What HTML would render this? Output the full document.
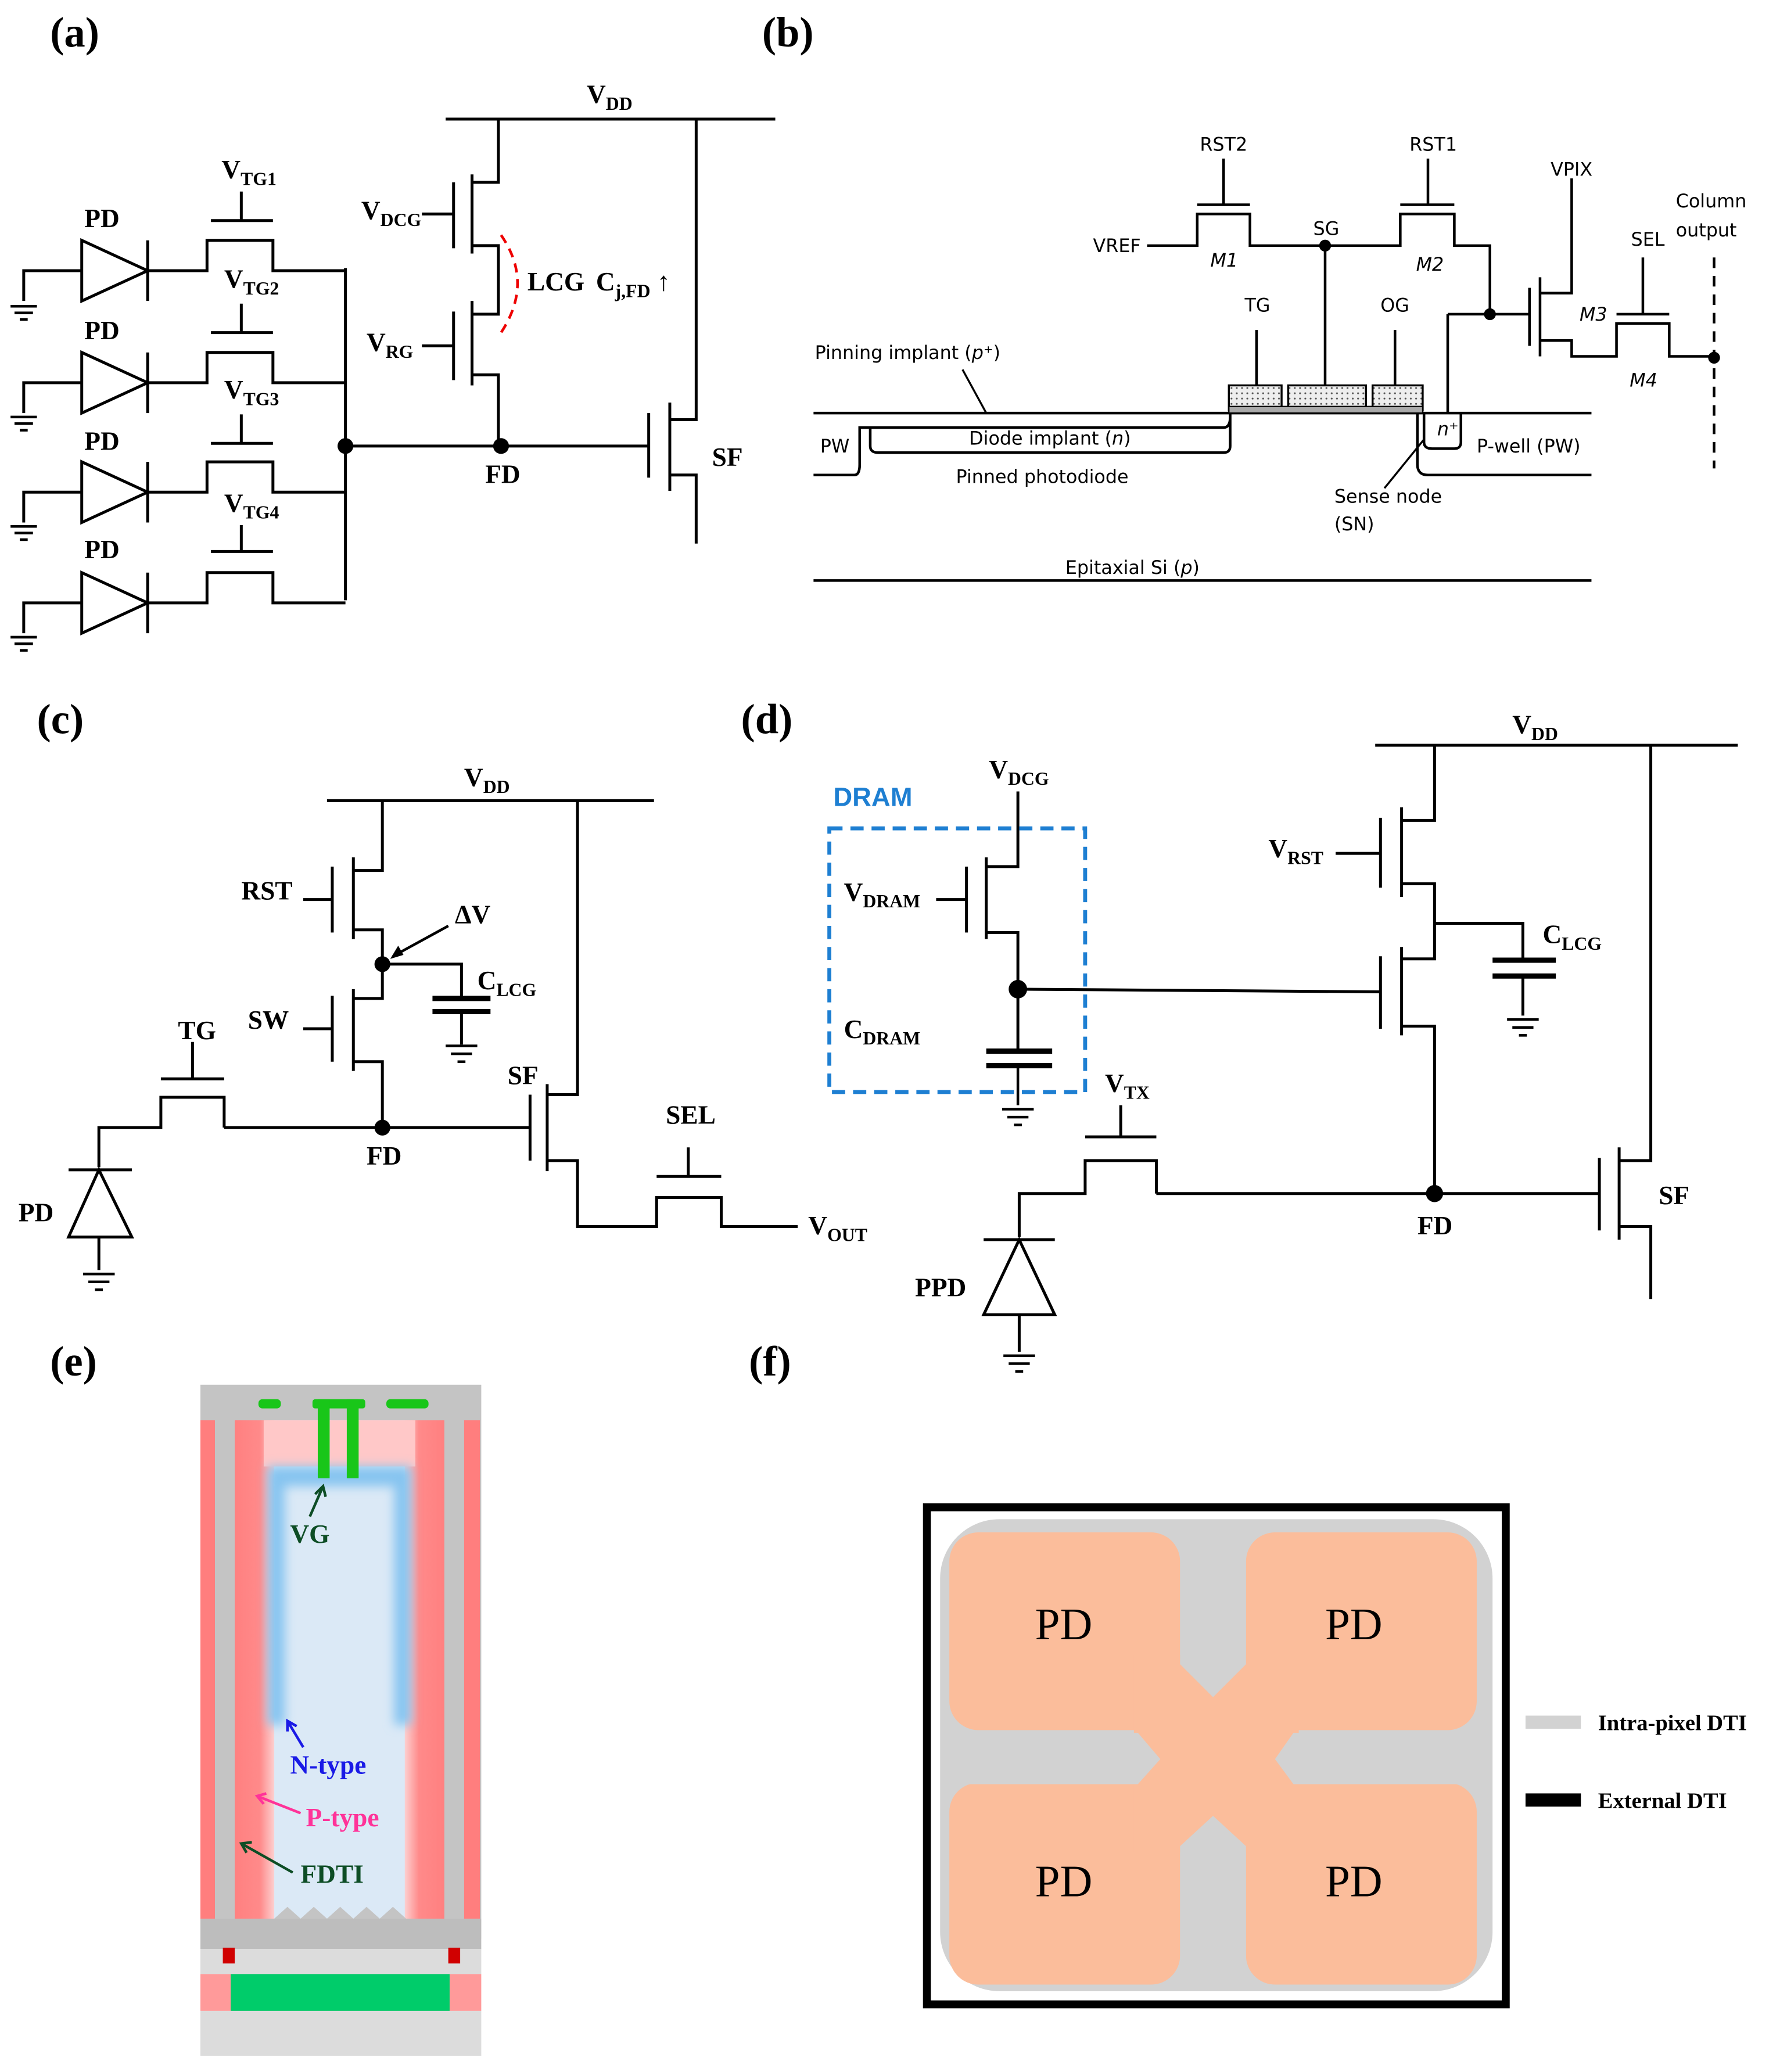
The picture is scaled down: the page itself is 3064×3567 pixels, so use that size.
<!DOCTYPE html>
<html><head><meta charset="utf-8"><style>html,body{margin:0;padding:0;background:#fff}svg{display:block}</style></head><body>
<svg xmlns="http://www.w3.org/2000/svg" width="3064" height="3567" viewBox="0 0 1350 1571">
<defs>
<pattern id="dots" width="4" height="4" patternUnits="userSpaceOnUse"><rect width="4" height="4" fill="#eee"/><circle cx="2" cy="2" r="0.7" fill="#555"/></pattern>
<linearGradient id="rl" x1="0" x2="1"><stop offset="0" stop-color="#ff8080"/><stop offset="0.6" stop-color="#ff8a8a"/><stop offset="1" stop-color="#fcdcdc"/></linearGradient>
<linearGradient id="rr" x1="1" x2="0"><stop offset="0" stop-color="#ff8080"/><stop offset="0.6" stop-color="#ff8a8a"/><stop offset="1" stop-color="#fcdcdc"/></linearGradient>
<filter id="bl" x="-20%" y="-20%" width="140%" height="140%"><feGaussianBlur stdDeviation="4"/></filter>
</defs>
<g fill="none" stroke="#000" stroke-width="2.2">
<!-- (a) -->
<path d="M338 90H588M378 90V138H358M358 186H378V238H358M358 284H378V338M344 138V188M320 162H344M358 132V192M344 236V288M320 262H344M358 228V292"/>
<path d="M262 338H492M492 313V362M508 305V372M508 318H528V90M508 360H528V412M262 203V455"/>
<path d="M18 228V205H62M62 182V228L112 205Z M112 182V228 M112 205H157V182H207V205H262 M160 167H207M183 145V167"/>
<path d="M18 313V290H62M62 267V313L112 290Z M112 267V313 M112 290H157V267H207V290H262 M160 252H207M183 230V252"/>
<path d="M18 396V373H62M62 350V396L112 373Z M112 350V396 M112 373H157V350H207V373H262 M160 336H207M183 314V336"/>
<path d="M18 480V457H62M62 434V480L112 457Z M112 434V480 M112 457H157V434H207V457H262 M160 418H207M183 398V418"/>
<path d="M8 232H28M11 237H25M15 242H21M8 316H28M11 321H25M15 326H21M8 399H28M11 404H25M15 409H21M8 483H28M11 488H25M15 493H21" stroke-width="2"/>
<!-- (b) -->
<g stroke-width="2">
<path d="M617 440H1207M617 313H1207M617 360H648Q652 360 652 352V324H928Q933 324 933 316M660 324V338Q660 343 666 343H928Q933 343 933 338V313M1075 313V352Q1075 360 1083 360H1207M1080 313V335Q1080 340 1086 340H1103Q1108 340 1108 335V313"/>
<path d="M870 186H908V162H948V186H1062V162H1103V186H1130V238M908 155H948M928 120V155M1062 155H1103M1083 120V155M1005 186V292M953 250V292M1058 250V292M1098 238H1160M1098 238V313M1160 218V262M1168 210V270M1168 222H1192V135M1168 258H1192V270H1226V245H1266V270H1300M1226 238H1266M1246 195V238"/>
<path d="M1300 195V355" stroke-dasharray="8 6"/>
<path d="M730 280L748 313M1050 370L1080 333" stroke-width="1.5"/>
</g>
<rect x="932" y="292" width="40" height="19" fill="url(#dots)" stroke-width="1.5"/>
<rect x="977" y="292" width="59" height="19" fill="url(#dots)" stroke-width="1.5"/>
<rect x="1041" y="292" width="38" height="19" fill="url(#dots)" stroke-width="1.5"/>
<rect x="932" y="308" width="147" height="5" fill="#aaa" stroke-width="1"/>
<!-- (c) -->
<path d="M248 607H496M290 607V660H268M268 705H290V757H268M268 805H290V855M252 657V707M230 682H252M268 650V712M252 755V805M230 780H252M268 750V812M290 731H350V757M350 767V792M170 855H402M402 830V880M415 822V888M415 830H438V607M415 880H438V930H498V908H547V930H605M498 892H547M522 870V892M75 885V855H122V832H170V855M122 818H170M146 790V818M52 887H100M52 938H100L75 887Z M75 938V963"/>
<path d="M338 793H362M342 799H358M347 805H353M63 966H87M67 972H83M72 978H78" stroke-width="2"/>
<path d="M340 702L298 725" stroke-width="2"/><path d="M296 727L302 717L306 724Z" fill="#000" stroke="none"/>
<!-- (d) -->
<path d="M1043 565H1318M1088 565V622H1063M1063 670H1088V727H1063M1063 778H1088V905M1047 620V673M1013 647H1047M1063 612V680M1088 700H1155V728M1155 740V770M772 750L1047 752M1047 725V780M1063 718V785M877 905H1213M1213 878V933M1228 870V940M1228 880H1252V565M1228 930H1252V985M772 600V657H748M748 707H772V795M733 657V707M710 682H733M748 650V712M773 938V905H823V880H877V905M823 862H877M850 838V862M746 940H800M746 997H800L773 940Z M773 997V1025"/>
<path d="M748 797H798M748 808H798" stroke-width="4"/><path d="M1132 728H1180M1132 740H1180" stroke-width="4"/><path d="M328 757H372M328 767H372" stroke-width="4"/>
<path d="M772 808V838M760 841H784M764 847H780M769 853H775M1143 773H1167M1147 779H1163M1152 785H1158M761 1028H785M765 1034H781M770 1040H776" stroke-width="2"/>
</g>
<path d="M380 178Q405 214 380 252" fill="none" stroke="#e00" stroke-width="2" stroke-dasharray="7 5"/>
<g fill="#000">
<circle cx="262" cy="338" r="6"/><circle cx="380" cy="338" r="6"/><circle cx="1005" cy="186" r="4.5"/><circle cx="1130" cy="238" r="4.5"/><circle cx="1300" cy="271" r="4.5"/>
<circle cx="290" cy="731" r="6"/><circle cx="290" cy="855" r="6"/><circle cx="772" cy="750" r="7"/><circle cx="1088" cy="905" r="6.5"/>
</g>
<rect x="629" y="628" width="194" height="200" fill="none" stroke="#1e7fd2" stroke-width="3" stroke-dasharray="10 6"/>
<!-- serif labels -->
<g font-family="Liberation Serif, serif" font-weight="bold" font-size="20" fill="#000">
<text x="38" y="35" font-size="32">(a)</text><text x="578" y="35" font-size="32">(b)</text>
<text x="28" y="556" font-size="32">(c)</text><text x="562" y="556" font-size="32">(d)</text>
<text x="38" y="1043" font-size="32">(e)</text><text x="568" y="1043" font-size="32">(f)</text>
<text x="445" y="78">V<tspan font-size="14" dy="5">DD</tspan></text>
<text x="168" y="135">V<tspan font-size="14" dy="5">TG1</tspan></text>
<text x="170" y="218">V<tspan font-size="14" dy="5">TG2</tspan></text>
<text x="170" y="302">V<tspan font-size="14" dy="5">TG3</tspan></text>
<text x="170" y="388">V<tspan font-size="14" dy="5">TG4</tspan></text>
<text x="64" y="172">PD</text><text x="64" y="257">PD</text><text x="64" y="341">PD</text><text x="64" y="423">PD</text>
<text x="274" y="166">V<tspan font-size="14" dy="5">DCG</tspan></text>
<text x="278" y="266">V<tspan font-size="14" dy="5">RG</tspan></text>
<text x="400" y="220">LCG</text><text x="452" y="220">C<tspan font-size="14" dy="5">j,FD</tspan><tspan dy="-5"> ↑</tspan></text>
<text x="368" y="366">FD</text><text x="540" y="353">SF</text>
<text x="352" y="596">V<tspan font-size="14" dy="5">DD</tspan></text>
<text x="183" y="682">RST</text><text x="345" y="700">ΔV</text>
<text x="362" y="750">C<tspan font-size="14" dy="5">LCG</tspan></text>
<text x="188" y="780">SW</text><text x="385" y="822">SF</text><text x="135" y="788">TG</text>
<text x="278" y="883">FD</text><text x="505" y="852">SEL</text><text x="14" y="926">PD</text>
<text x="613" y="936">V<tspan font-size="14" dy="5">OUT</tspan></text>
<text x="1147" y="556">V<tspan font-size="14" dy="5">DD</tspan></text>
<text x="750" y="590">V<tspan font-size="14" dy="5">DCG</tspan></text>
<text x="962" y="650">V<tspan font-size="14" dy="5">RST</tspan></text>
<text x="1170" y="715">C<tspan font-size="14" dy="5">LCG</tspan></text>
<text x="640" y="683">V<tspan font-size="14" dy="5">DRAM</tspan></text>
<text x="640" y="787">C<tspan font-size="14" dy="5">DRAM</tspan></text>
<text x="838" y="828">V<tspan font-size="14" dy="5">TX</tspan></text>
<text x="1075" y="936">FD</text><text x="1258" y="913">SF</text><text x="694" y="983">PPD</text>
</g>
<text x="632" y="611" font-family="Liberation Sans, sans-serif" font-weight="bold" font-size="20" fill="#1e7fd2">DRAM</text>
<!-- sans labels (b) -->
<g font-family="DejaVu Sans, sans-serif" font-size="14" fill="#000">
<text x="910" y="114">RST2</text><text x="1069" y="114">RST1</text><text x="829" y="191">VREF</text>
<text x="918" y="202" font-style="italic">M1</text><text x="996" y="178">SG</text><text x="1074" y="205" font-style="italic">M2</text>
<text x="1176" y="133">VPIX</text><text x="1237" y="186">SEL</text><text x="1271" y="157">Column</text><text x="1271" y="179">output</text>
<text x="1198" y="243" font-style="italic">M3</text><text x="1236" y="293" font-style="italic">M4</text>
<text x="944" y="236">TG</text><text x="1047" y="236">OG</text>
<text x="618" y="272">Pinning implant (<tspan font-style="italic">p</tspan>⁺)</text>
<text x="735" y="337">Diode implant (<tspan font-style="italic">n</tspan>)</text>
<text x="725" y="366">Pinned photodiode</text><text x="622" y="343">PW</text>
<text x="1090" y="330" font-style="italic">n⁺</text><text x="1120" y="343">P-well (PW)</text>
<text x="1012" y="381">Sense node</text><text x="1012" y="402">(SN)</text>
<text x="808" y="435">Epitaxial Si (<tspan font-style="italic">p</tspan>)</text>
</g>
<!-- (e) -->
<rect x="152" y="1050" width="213" height="420" fill="#c4c4c4"/>
<rect x="152" y="1077" width="11" height="378" fill="#ff7e7e"/><rect x="352" y="1077" width="12" height="378" fill="#ff7e7e"/>
<rect x="178" y="1077" width="32" height="378" fill="url(#rl)"/><rect x="305" y="1077" width="32" height="378" fill="url(#rr)"/>
<rect x="208" y="1077" width="99" height="378" fill="#dbe9f6"/>
<rect x="200" y="1077" width="115" height="35" fill="#ffc8c8"/>
<path d="M203 1112H312V1308H299V1127H216V1308H203Z" fill="#86c4f0" filter="url(#bl)"/>
<path d="M208 1455L218 1446L228 1455L238 1446L248 1455L258 1446L268 1455L278 1446L288 1455L298 1446L308 1455Z" fill="#c4c4c4"/>
<rect x="152" y="1455" width="213" height="23" fill="#bdbdbd"/>
<rect x="152" y="1478" width="213" height="19" fill="#dcdcdc"/>
<rect x="169" y="1477" width="9" height="12" fill="#d00000"/><rect x="340" y="1477" width="9" height="12" fill="#d00000"/>
<rect x="152" y="1497" width="213" height="28" fill="#ff9a9a"/><rect x="175" y="1497" width="166" height="28" fill="#00cc6a"/>
<rect x="152" y="1525" width="213" height="34" fill="#dcdcdc"/>
<g fill="#19c619"><rect x="196" y="1061" width="17" height="7" rx="3"/><rect x="237" y="1061" width="40" height="7" rx="2"/><rect x="293" y="1061" width="32" height="7" rx="3"/><rect x="241" y="1061" width="9" height="60"/><rect x="263" y="1061" width="9" height="60"/></g>
<g font-family="Liberation Serif, serif" font-weight="bold" font-size="20">
<text x="220" y="1170" fill="#0d4d25">VG</text><text x="220" y="1345" fill="#1a1ae6">N-type</text>
<text x="232" y="1385" fill="#ff3399">P-type</text><text x="228" y="1428" fill="#0d4d25">FDTI</text>
</g>
<g fill="none" stroke-width="2">
<path d="M235 1150L245 1127M239 1133L245 1127L247 1135" stroke="#0d4d25"/>
<path d="M230 1325L218 1305M218 1313L218 1305L225 1309" stroke="#1a1ae6"/>
<path d="M228 1375L195 1362M202 1360L195 1362L200 1368" stroke="#ff3399"/>
<path d="M222 1420L183 1398M191 1397L183 1398L187 1405" stroke="#0d4d25"/>
</g>
<!-- (f) -->
<rect x="703" y="1143" width="439" height="377" fill="#fff" stroke="#000" stroke-width="6"/>
<rect x="713" y="1152" width="419" height="358" rx="45" fill="#d2d2d2"/>
<g fill="#fbbd9b">
<rect x="720" y="1162" width="175" height="150" rx="22"/><rect x="945" y="1162" width="175" height="150" rx="22"/>
<rect x="720" y="1352" width="175" height="153" rx="22"/><rect x="945" y="1352" width="175" height="153" rx="22"/>
<rect x="860" y="1255" width="125" height="150"/>
</g>
<g fill="#d2d2d2">
<path d="M895 1155H945V1262L920 1287L895 1262Z"/>
<path d="M895 1507H945V1400L920 1377L895 1400Z"/>
<path d="M716 1314H863L880 1334L863 1353H716Z"/>
<path d="M1129 1314H981L967 1334L981 1353H1129Z"/>
</g>
<g font-family="Liberation Serif, serif" font-size="34" fill="#000">
<text x="785" y="1243">PD</text><text x="1005" y="1243">PD</text><text x="785" y="1438">PD</text><text x="1005" y="1438">PD</text>
</g>
<rect x="1157" y="1301" width="42" height="10" fill="#d2d2d2"/><rect x="1157" y="1360" width="42" height="10" fill="#000"/>
<g font-family="Liberation Serif, serif" font-weight="bold" font-size="17"><text x="1212" y="1312">Intra-pixel DTI</text><text x="1212" y="1371">External DTI</text></g>
</svg>
</body></html>
